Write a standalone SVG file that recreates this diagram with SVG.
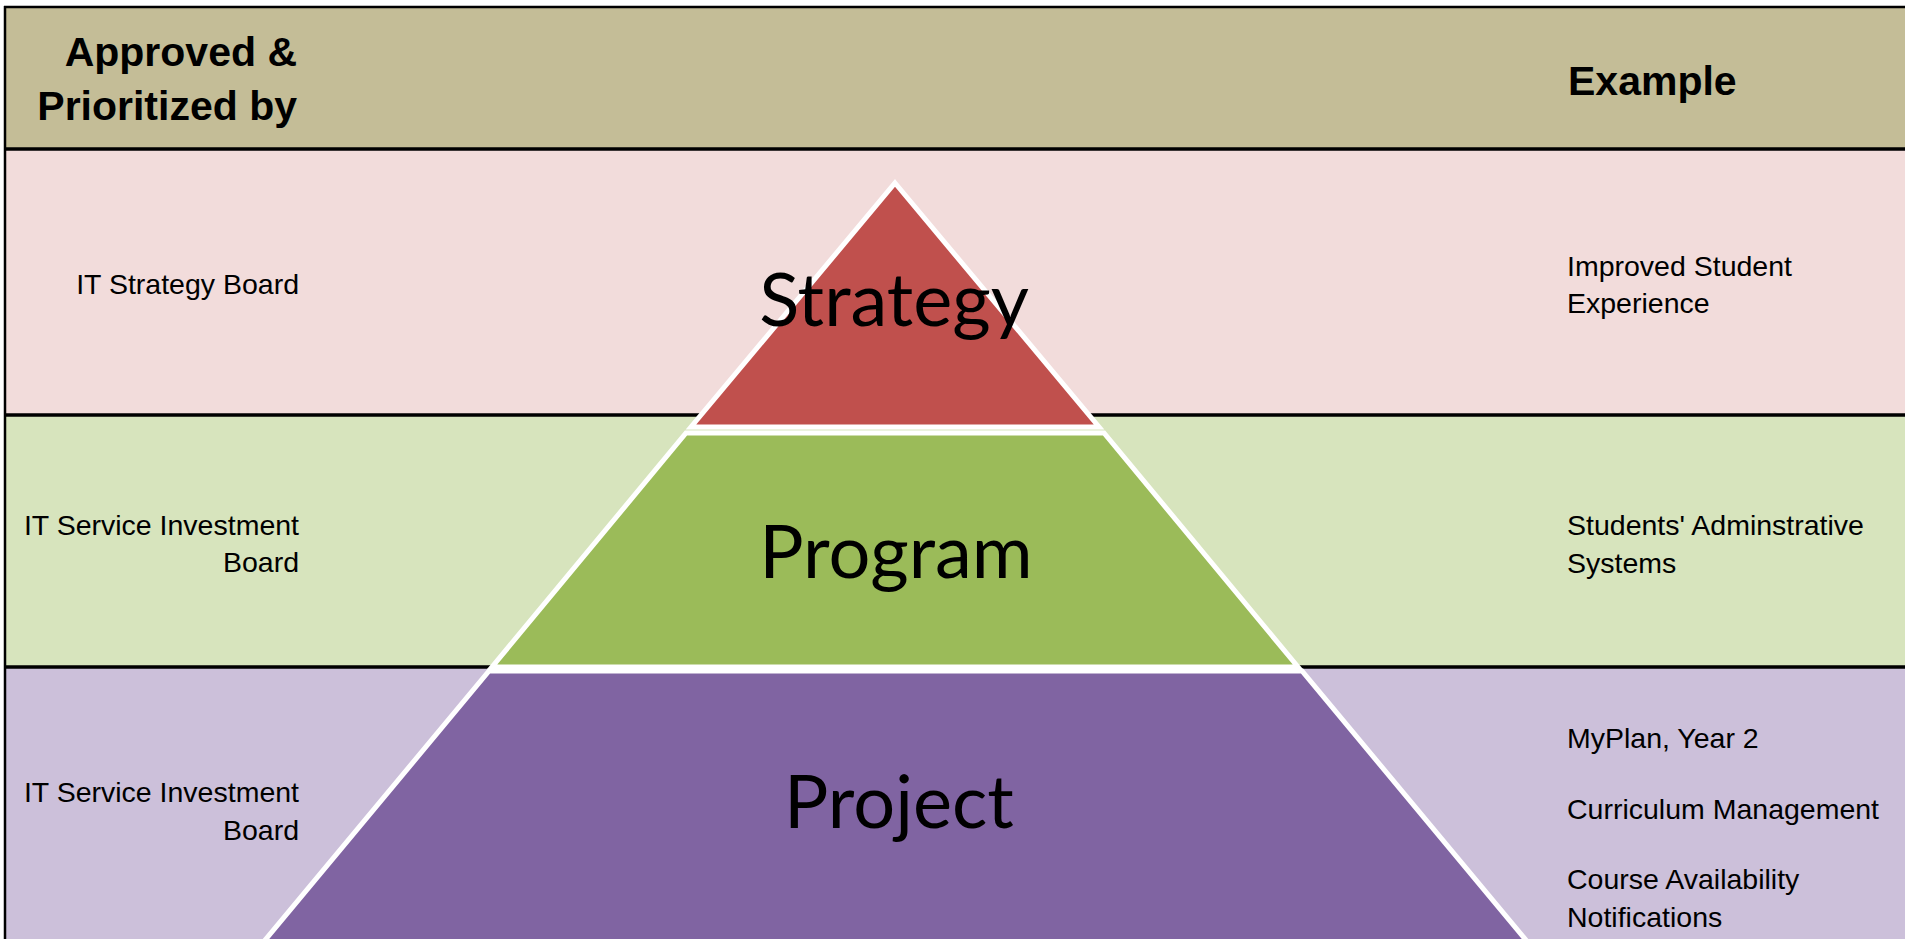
<svg xmlns="http://www.w3.org/2000/svg" width="1905" height="939" viewBox="0 0 1905 939">
<style>
.hdr{font-family:"Liberation Sans",Arial,sans-serif;font-weight:bold;font-size:41px;fill:#000}
.lbl{font-family:"Liberation Sans",Arial,sans-serif;font-size:28.5px;fill:#000}
.big{font-family:Lato,"Open Sans",sans-serif;font-size:74px;fill:#000;text-anchor:middle}
.sep{stroke:#000;stroke-width:3.5;fill:none}
.tier{stroke:#fff;stroke-width:5;stroke-linejoin:miter}
</style>
<rect x="0" y="0" width="1905" height="939" fill="#fff"/>
<g id="bands">
<rect x="5" y="7" width="1900" height="142" fill="#C4BD97"/>
<rect x="5" y="149" width="1900" height="266" fill="#F2DCDB"/>
<rect x="5" y="415" width="1900" height="252" fill="#D7E4BD"/>
<rect x="5" y="667" width="1900" height="280" fill="#CCC0DA"/>
</g>
<g id="grid">
<line class="sep" x1="4" y1="7" x2="1905" y2="7" style="stroke-width:2.5"/>
<line class="sep" x1="5" y1="6" x2="5" y2="939" style="stroke-width:2.5"/>
<line class="sep" x1="4" y1="149" x2="1905" y2="149"/>
<line class="sep" x1="4" y1="415" x2="1905" y2="415"/>
<line class="sep" x1="4" y1="667" x2="1905" y2="667"/>
</g>
<g id="header">
<text class="hdr" x="297" y="66" text-anchor="end">Approved &amp;</text>
<text class="hdr" x="297" y="120" text-anchor="end">Prioritized by</text>
<text class="hdr" x="1568" y="95">Example</text>
</g>
<g id="connectors"></g>
<g id="tier-strategy">
<path class="tier" d="M895,183 L1099,427 L691,427 Z" fill="#C0504D"/>
<text class="big" x="894" y="326">Strategy</text>
</g>
<g id="tier-program">
<path class="tier" d="M686,433 L1104,433 L1298,667 L492,667 Z" fill="#9BBB59"/>
<text class="big" x="896" y="578">Program</text>
</g>
<g id="tier-project">
<path class="tier" d="M489,671 L1302,671 L1535,951 L256,951 Z" fill="#8064A2"/>
<text class="big" x="899" y="828">Project</text>
</g>
<g id="row-strategy">
<text class="lbl" x="299" y="294" text-anchor="end">IT Strategy Board</text>
<text class="lbl" x="1567" y="276">Improved Student</text>
<text class="lbl" x="1567" y="313">Experience</text>
</g>
<g id="row-program">
<text class="lbl" x="299" y="535" text-anchor="end">IT Service Investment</text>
<text class="lbl" x="299" y="572" text-anchor="end">Board</text>
<text class="lbl" x="1567" y="535">Students' Adminstrative</text>
<text class="lbl" x="1567" y="573">Systems</text>
</g>
<g id="row-project">
<text class="lbl" x="299" y="802" text-anchor="end">IT Service Investment</text>
<text class="lbl" x="299" y="840" text-anchor="end">Board</text>
<text class="lbl" x="1567" y="748">MyPlan, Year 2</text>
<text class="lbl" x="1567" y="819">Curriculum Management</text>
<text class="lbl" x="1567" y="889">Course Availability</text>
<text class="lbl" x="1567" y="927">Notifications</text>
</g>
</svg>
